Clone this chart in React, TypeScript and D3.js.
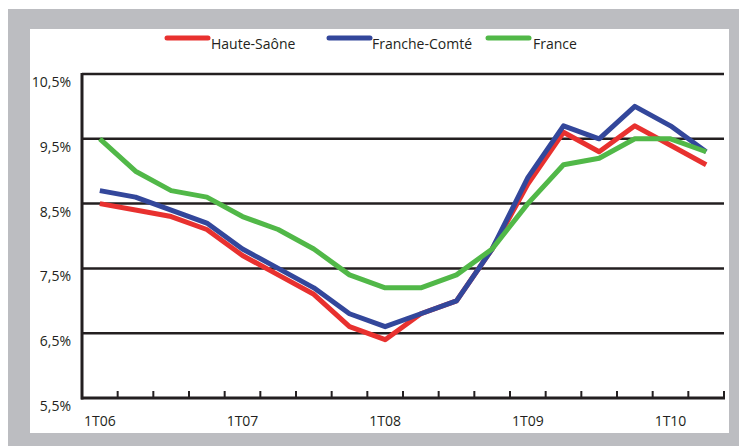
import React from "react";
import * as d3 from "d3";

const quarters = [
  "1T06", "2T06", "3T06", "4T06",
  "1T07", "2T07", "3T07", "4T07",
  "1T08", "2T08", "3T08", "4T08",
  "1T09", "2T09", "3T09", "4T09",
  "1T10", "2T10",
];
const hauteSaone = [8.5, 8.4, 8.3, 8.1, 7.7, 7.4, 7.1, 6.6, 6.4, 6.8, 7.0, 7.8, 8.8, 9.6, 9.3, 9.7, 9.4, 9.1];
const franceComte = [8.7, 8.6, 8.4, 8.2, 7.8, 7.5, 7.2, 6.8, 6.6, 6.8, 7.0, 7.8, 8.9, 9.7, 9.5, 10.0, 9.7, 9.3];
const france = [9.5, 9.0, 8.7, 8.6, 8.3, 8.1, 7.8, 7.4, 7.2, 7.2, 7.4, 7.8, 8.5, 9.1, 9.2, 9.5, 9.5, 9.3];
const yTicks = [5.5, 6.5, 7.5, 8.5, 9.5, 10.5];
const xLabels = ["1T06", "1T07", "1T08", "1T09", "1T10"];

const series = [
  { name: "Haute-Saône", values: hauteSaone, color: "#e8312f" },
  { name: "Franche-Comté", values: franceComte, color: "#33479b" },
  { name: "France", values: france, color: "#51b848" },
];

const W = 739;
const H = 446;
const left = 82;
const right = 724;
const top = 74;
const bottom = 398;
const font = "'Open Sans', 'Noto Sans', sans-serif";

export default function App() {
  const x = d3.scaleBand<string>().domain(quarters).range([left, right]).paddingInner(0).paddingOuter(0);
  const y = d3.scaleLinear().domain([5.5, 10.5]).range([bottom, top]);
  const cx = (q: string) => (x(q) as number) + x.bandwidth() / 2;
  const line = d3
    .line<number>()
    .x((_, i) => cx(quarters[i]))
    .y((d) => y(d));

  const legendItems = [
    { sx: 165, tx: 211 },
    { sx: 327, tx: 372 },
    { sx: 486, tx: 533 },
  ];

  const tickXs = quarters.map((q) => (x(q) as number)).concat([right]);

  return (
    <svg
      width={W}
      height={H}
      style={{ position: "absolute", left: 0, top: 0, display: "block" }}
    >
      <rect x={0} y={0} width={W} height={H} fill="#ffffff" />
      <rect x={8} y={9} width={W - 8} height={H - 9} fill="#bcbdc1" />
      <rect x={30} y={29} width={699} height={404} fill="#ffffff" />

      {/* legend */}
      {series.map((s, i) => (
        <g key={s.name}>
          <line
            x1={legendItems[i].sx + 2}
            x2={legendItems[i].sx + 43}
            y1={38}
            y2={38}
            stroke={s.color}
            strokeWidth={5}
            strokeLinecap="round"
          />
          <text
            x={legendItems[i].tx}
            y={49}
            fontFamily={font}
            fontSize={14}
            fill="#231f20"
          >
            {s.name}
          </text>
        </g>
      ))}

      {/* gridlines */}
      {yTicks.slice(1).map((t) => (
        <line
          key={t}
          x1={left}
          x2={right}
          y1={y(t)}
          y2={y(t)}
          stroke="#231f20"
          strokeWidth={2.5}
        />
      ))}

      {/* y labels */}
      {yTicks.map((t) => (
        <text
          key={t}
          x={71}
          y={y(t) + 13}
          textAnchor="end"
          fontFamily={font}
          fontSize={14}
          fill="#231f20"
        >
          {d3.format(".1f")(t).replace(".", ",") + "%"}
        </text>
      ))}

      {/* x labels */}
      {xLabels.map((l) => (
        <text
          key={l}
          x={cx(l)}
          y={426}
          textAnchor="middle"
          fontFamily={font}
          fontSize={14}
          fill="#231f20"
        >
          {l}
        </text>
      ))}

      {/* series */}
      {series.map((s) => (
        <path
          key={s.name}
          d={line(s.values) || ""}
          fill="none"
          stroke={s.color}
          strokeWidth={5}
          strokeLinejoin="round"
        />
      ))}

      {/* axes */}
      {tickXs.map((tx, i) => (
        <line key={i} x1={tx} x2={tx} y1={bottom} y2={bottom - 7} stroke="#231f20" strokeWidth={2} />
      ))}
      <line x1={left} x2={left} y1={top - 1} y2={bottom + 1.5} stroke="#231f20" strokeWidth={3} />
      <line x1={left - 1} x2={right + 1} y1={bottom} y2={bottom} stroke="#231f20" strokeWidth={3} />
    </svg>
  );
}
